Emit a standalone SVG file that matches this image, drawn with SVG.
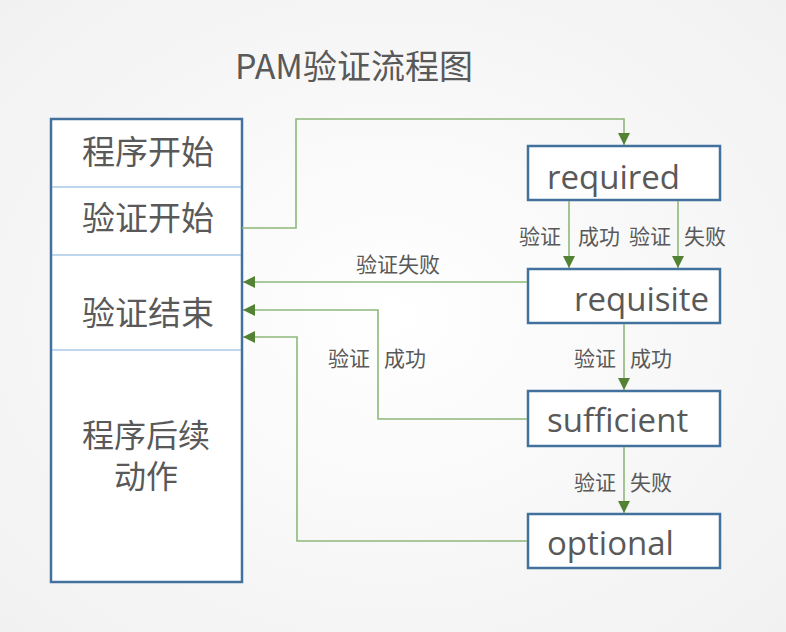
<svg xmlns="http://www.w3.org/2000/svg" width="786" height="632" viewBox="0 0 786 632">
<defs>
<radialGradient id="bg" cx="50%" cy="50%" r="70%">
<stop offset="0" stop-color="#ffffff"/>
<stop offset="1" stop-color="#f1f1f1"/>
</radialGradient>
<marker id="arr" viewBox="0 0 10 10" refX="10" refY="5" markerWidth="12" markerHeight="12" markerUnits="userSpaceOnUse" orient="auto">
<path d="M0,0 L10,5 L0,10 z" fill="#548235"/>
</marker>
<style>
.box{fill:#ffffff;stroke:#41719c;stroke-width:2.5}
.div{stroke:#7fb0dc;stroke-width:1.2}
.t{font-family:"Noto Sans CJK SC","Noto Sans",sans-serif;fill:#595959}
.big{font-size:33px}
.en{font-family:"Open Sans","Noto Sans",sans-serif;font-size:33px;fill:#595959}
.lb{font-family:"Noto Sans CJK SC",sans-serif;font-size:21px;fill:#595959}
.c{fill:none;stroke:#8db87a;stroke-width:1.6}
</style>
</defs>
<rect width="786" height="632" fill="url(#bg)"/>
<text class="t" x="354" y="79" text-anchor="middle" font-size="34">PAM验证流程图</text>
<g id="left">
<rect class="box" x="51" y="119" width="191" height="463"/>
<line class="div" x1="52" y1="187" x2="241" y2="187"/>
<line class="div" x1="52" y1="255" x2="241" y2="255"/>
<line class="div" x1="52" y1="350" x2="241" y2="350"/>
<text class="t big" x="148" y="164" text-anchor="middle">程序开始</text>
<text class="t big" x="148" y="230" text-anchor="middle">验证开始</text>
<text class="t big" x="148" y="325" text-anchor="middle">验证结束</text>
<text class="t" font-size="32" x="146" y="447" text-anchor="middle">程序后续</text>
<text class="t" font-size="32" x="146" y="488" text-anchor="middle">动作</text>
</g>
<g id="required">
<rect class="box" x="528" y="146" width="192" height="54"/>
<text class="en" x="547" y="189">required</text>
</g>
<g id="requisite">
<rect class="box" x="528" y="269" width="192" height="54"/>
<text class="en" x="574" y="311">requisite</text>
</g>
<g id="sufficient">
<rect class="box" x="528" y="391" width="192" height="55"/>
<text class="en" x="547" y="432">sufficient</text>
</g>
<g id="optional">
<rect class="box" x="528" y="514" width="192" height="54"/>
<text class="en" x="547" y="555">optional</text>
</g>
<g id="connectors">
<polyline class="c" points="242,228 296,228 296,119 624,119 624,145" marker-end="url(#arr)"/>
<line class="c" x1="569" y1="201" x2="569" y2="268" marker-end="url(#arr)"/>
<line class="c" x1="678" y1="201" x2="678" y2="268" marker-end="url(#arr)"/>
<line class="c" x1="527" y1="282" x2="243" y2="282" marker-end="url(#arr)"/>
<polyline class="c" points="527,419 378,419 378,310 243,310" marker-end="url(#arr)"/>
<polyline class="c" points="527,541 297,541 297,337 243,337" marker-end="url(#arr)"/>
<line class="c" x1="624" y1="324" x2="624" y2="390" marker-end="url(#arr)"/>
<line class="c" x1="624" y1="447" x2="624" y2="513" marker-end="url(#arr)"/>
<text class="lb" x="540" y="244" text-anchor="middle">验证</text>
<text class="lb" x="599" y="244" text-anchor="middle">成功</text>
<text class="lb" x="650" y="244" text-anchor="middle">验证</text>
<text class="lb" x="705" y="244" text-anchor="middle">失败</text>
<text class="lb" x="398" y="272" text-anchor="middle">验证失败</text>
<text class="lb" x="349" y="366" text-anchor="middle">验证</text>
<text class="lb" x="405" y="366" text-anchor="middle">成功</text>
<text class="lb" x="595" y="366" text-anchor="middle">验证</text>
<text class="lb" x="651" y="366" text-anchor="middle">成功</text>
<text class="lb" x="595" y="490" text-anchor="middle">验证</text>
<text class="lb" x="651" y="490" text-anchor="middle">失败</text>
</g>
</svg>
